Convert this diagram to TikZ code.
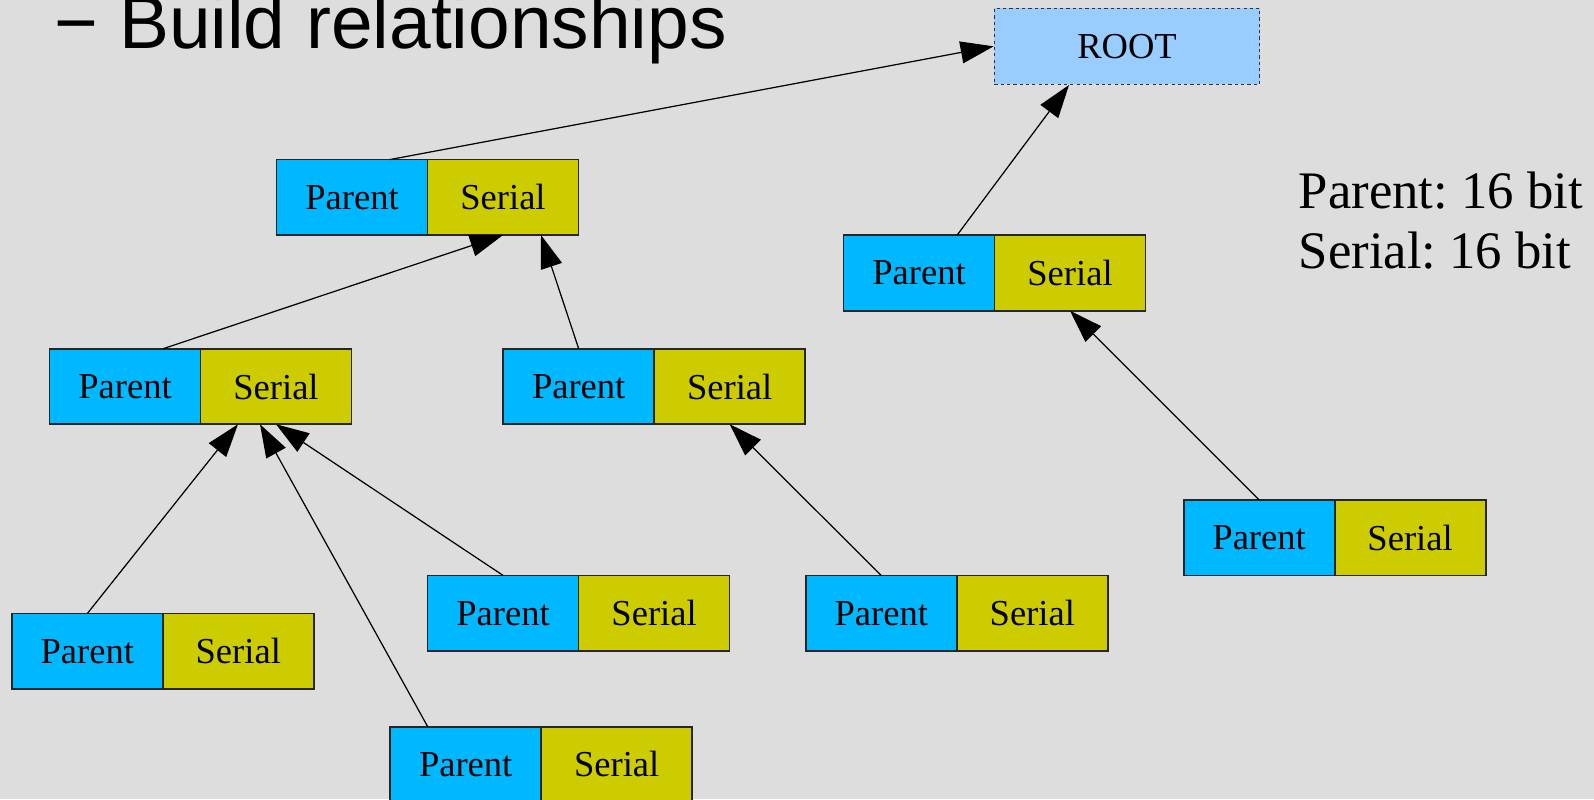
\documentclass[tikz,border=0pt]{standalone}
\usepackage{fontspec}
\setmainfont{Liberation Serif}
\newfontfamily\titlefont{Liberation Sans}
\usetikzlibrary{positioning,arrows.meta}
\definecolor{bgcolor}{RGB}{221,221,221}
\definecolor{parentblue}{RGB}{0,184,255}
\definecolor{serialyellow}{RGB}{204,204,0}
\definecolor{rootblue}{RGB}{153,204,255}
\frenchspacing

\begin{document}
\begin{tikzpicture}[
		cell/.style={draw=black!85, line width=0.5pt, minimum width=1.51cm, minimum height=0.755cm, inner sep=0pt, outer sep=0pt, font=\fontsize{10.4pt}{12pt}\selectfont},
		parentcell/.style={cell, fill=parentblue},
		serialcell/.style={cell, fill=serialyellow},
		link/.style={-{Triangle[length=3.3mm,width=2.2mm]}, line width=0.35pt}
	]
	% Background
	\useasboundingbox (0,0) rectangle (15.94,-7.99);
	\clip (0,0) rectangle (15.94,-7.99);
	\fill[bgcolor] (0,0) rectangle (15.94,-7.99);

	% Title
	\node[anchor=base west, inner sep=0pt, font=\titlefont\fontsize{21.3pt}{25pt}\selectfont] (title) at (0.54,-0.483) {− Build relationships};

	% Root
	\node[draw=black!80, dashed, dash pattern=on 0.9pt off 0.9pt, line width=0.4pt, fill=rootblue, minimum width=2.653cm, minimum height=0.76cm, inner sep=0pt, font=\fontsize{10.4pt}{12pt}\selectfont] (root) at (11.27,-0.463) {ROOT};

	% Nodes
	\node[parentcell] (pA) at (3.52,-1.973) {Parent};
	\node[serialcell, right=0pt of pA] (sA) {Serial};

	\node[parentcell] (pB) at (9.19,-2.73) {Parent};
	\node[serialcell, right=0pt of pB] (sB) {Serial};

	\node[parentcell] (pC) at (1.25,-3.865) {Parent};
	\node[serialcell, right=0pt of pC] (sC) {Serial};

	\node[parentcell] (pD) at (5.787,-3.865) {Parent};
	\node[serialcell, right=0pt of pD] (sD) {Serial};

	\node[parentcell] (pE) at (12.591,-5.377) {Parent};
	\node[serialcell, right=0pt of pE] (sE) {Serial};

	\node[parentcell] (pF) at (5.031,-6.132) {Parent};
	\node[serialcell, right=0pt of pF] (sF) {Serial};

	\node[parentcell] (pG) at (8.813,-6.133) {Parent};
	\node[serialcell, right=0pt of pG] (sG) {Serial};

	\node[parentcell] (pH) at (0.873,-6.513) {Parent};
	\node[serialcell, right=0pt of pH] (sH) {Serial};

	\node[parentcell] (pI) at (4.657,-7.644) {Parent};
	\node[serialcell, right=0pt of pI] (sI) {Serial};

	% Connections
	\draw[link] ([xshift=0.38cm]pA.north) -- (root.west);
	\draw[link] ([xshift=0.38cm]pB.north) -- ([xshift=-0.58cm]root.south);
	\draw[link] ([xshift=0.38cm]pC.north) -- (sA.south);
	\draw[link] (pD.north) -- ([xshift=0.38cm]sA.south);
	\draw[link] (pH.north) -- ([xshift=-0.38cm]sC.south);
	\draw[link] ([xshift=-0.38cm]pI.north) -- ([xshift=-0.16cm]sC.south);
	\draw[link] (pF.north) -- (sC.south);
	\draw[link] (pG.north) -- (sD.south);
	\draw[link] (pE.north) -- (sB.south);

	% Labels
	\node[anchor=north west, align=left, inner sep=0pt, font=\fontsize{15pt}{17.1pt}\selectfont] (sizes) at (12.98,-1.708) {Parent: 16 bit\\Serial: 16 bit};
\end{tikzpicture}
\end{document}
